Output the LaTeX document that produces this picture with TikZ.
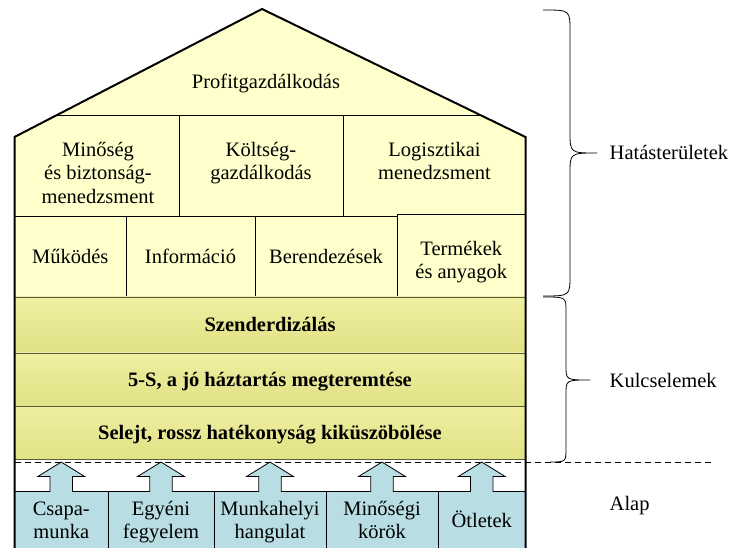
\documentclass[tikz,border=0pt]{standalone}
\usepackage{fontspec}
\setmainfont{Liberation Serif}
\usetikzlibrary{calc}
\definecolor{roofyellow}{HTML}{FFFFCC}
\definecolor{bandtop}{HTML}{EFEFA0}
\definecolor{bandmid}{HTML}{FFFF99}
\definecolor{bandbot}{HTML}{E1E186}
\definecolor{bandedge}{HTML}{5A5A40}
\definecolor{baseblue}{HTML}{B8DDE3}
\newcommand{\lblfont}{\fontsize{20.5}{23.5}\selectfont}
\begin{document}
\begin{tikzpicture}[x=1pt,y=-1pt,
  lbl/.style={inner sep=0pt,align=center,font=\lblfont},
  cellbox/.style={draw=black,line width=0.9pt,fill=roofyellow,inner sep=0pt,
    font=\lblfont,text height=13.6pt,text depth=0pt},
  bandbox/.style={draw=bandedge,line width=0.9pt,inner sep=0pt,
    top color=bandtop,middle color=bandmid,bottom color=bandbot,
    font=\lblfont\bfseries,text height=14pt,text depth=0pt,minimum width=511pt},
  basebox/.style={draw=black,line width=0.9pt,fill=baseblue,inner sep=0pt,minimum height=70pt},
  gridline/.style={line width=0.9pt},
  wall/.style={line width=2pt,line join=miter},
  bracket/.style={line width=0.8pt},
  uparrow/.style={fill=baseblue,draw=black,line width=0.8pt,line join=miter},
  baseline rule/.style={dashed,dash pattern=on 6pt off 4pt,line width=1pt},
]
\useasboundingbox (0,0) rectangle (729,548);
\clip (0,0) rectangle (729,548);

% roof outline points
\coordinate (apex)  at (262,9);
\coordinate (eaveL) at (14.5,137);
\coordinate (eaveR) at (525.5,137);

% roof and upper rows background
\fill[roofyellow] (14.5,297) -- (eaveL) -- (apex) -- (eaveR) -- (525.5,297) -- cycle;

% first row of impact areas: top line under the roof and dividers
\draw[gridline] ($(apex)!0.828125!(eaveL)$) -- ($(apex)!0.828125!(eaveR)$);
\draw[gridline] (179,115) -- (179,216.5);
\draw[gridline] (343,115) -- (343,216.5);

% second row of impact areas
\node[cellbox,minimum width=111.5pt,minimum height=80.5pt] (mukodes) at (70.25,256.75) {Működés};
\node[cellbox,minimum width=129pt,minimum height=80.5pt] (info) at (190.5,256.75) {Információ};
\node[cellbox,minimum width=142pt,minimum height=80.5pt] (beren) at (326,256.75) {Berendezések};
\node[cellbox,minimum width=128.5pt,minimum height=82.5pt] (termcell) at (461.25,255.75) {};

% key elements
\node[bandbox,minimum height=56pt] (szend) at (270,325) {Szenderdizálás};
\node[bandbox,minimum height=53pt] (fives) at (270,379.5) {5-S, a jó háztartás megteremtése};
\node[bandbox,minimum height=53pt] (selejt) at (270,432.5) {Selejt, rossz hatékonyság kiküszöbölése};

% foundation boxes
\node[basebox,minimum width=93.5pt]  (b1) at (61.25,526.7) {};
\node[basebox,minimum width=106pt]   (b2) at (161,526.7) {};
\node[basebox,minimum width=112pt]   (b3) at (270,526.7) {};
\node[basebox,minimum width=112pt]   (b4) at (382,526.7) {};
\node[basebox,minimum width=87.5pt]  (b5) at (481.75,526.7) {};

% upward arrows from the foundation
\foreach \b in {b1,b2,b3,b4,b5}{
  \draw[uparrow] ($(\b.north)+(-11.2,0.6)$) -- ($(\b.north)+(-11.2,-14.7)$)
    -- ($(\b.north)+(-23.5,-14.7)$) -- ($(\b.north)+(0,-29.2)$)
    -- ($(\b.north)+(23.5,-14.7)$) -- ($(\b.north)+(11.2,-14.7)$)
    -- ($(\b.north)+(11.2,0.6)$);
}

% separating dashed line
\coordinate (dashL) at (14.5,462);
\coordinate (dashR) at (713,462);
\draw[baseline rule] (dashL) -- (dashR);

% house walls and roof
\draw[wall] (14.5,570) -- (eaveL) -- (apex) -- (eaveR) -- (525.5,570);

% texts
\node[lbl,anchor=base] (profit) at (266,88.5) {Profitgazdálkodás};
\node[lbl,anchor=north] (minoseg) at (98,139.5) {\strut Minőség\\és biztonság-\\menedzsment};
\node[lbl,anchor=north] (koltseg) at (261,139.5) {\strut Költség-\\gazdálkodás};
\node[lbl,anchor=north] (logiszt) at (434.5,139.5) {\strut Logisztikai\\menedzsment};
\node[lbl,anchor=north] (termek) at (461.25,238.5) {\strut Termékek\\és anyagok};

\node[lbl,anchor=north] (t1) at (61.25,498.5) {\strut Csapa-\\munka};
\node[lbl,anchor=north] (t2) at (161,498.5) {\strut Egyéni\\fegyelem};
\node[lbl,anchor=north] (t3) at (270,498.5) {\strut Munkahelyi\\hangulat};
\node[lbl,anchor=north] (t4) at (382,498.5) {\strut Minőségi\\körök};
\node[lbl,anchor=base] (t5) at (481.75,527) {Ötletek};

% braces on the right
\coordinate (tipA) at (597,153);
\coordinate (tipB) at (590,380);
\draw[bracket] (543,10) .. controls (570,10) .. (570,31) -- (570,132)
  .. controls (570,153) .. (tipA) .. controls (570,153) .. (570,174)
  -- (570,275) .. controls (570,296) .. (543,296);
\draw[bracket] (543,297) .. controls (566,297) .. (566,311) -- (566,366)
  .. controls (566,380) .. (tipB) .. controls (566,380) .. (566,394)
  -- (566,448) .. controls (566,462) .. (550,462);

\node[lbl,anchor=base west] (hatas) at (609.5,159.5) {Hatásterületek};
\node[lbl,anchor=base west] (kulcs) at (609.5,388) {Kulcselemek};
\node[lbl,anchor=base west] (alap) at (609.5,510) {Alap};
\end{tikzpicture}
\end{document}
